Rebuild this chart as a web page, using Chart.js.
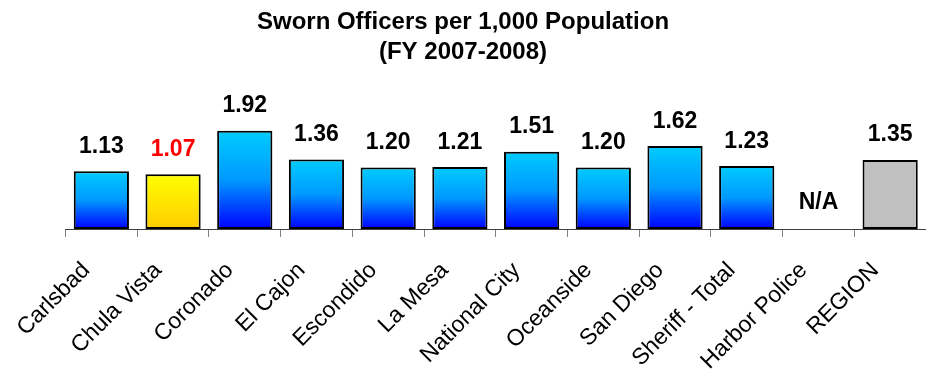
<!DOCTYPE html>
<html>
<head>
<meta charset="utf-8">
<script src="https://cdn.jsdelivr.net/npm/chart.js@4/dist/chart.umd.min.js"></script>
<style>
  html, body { margin: 0; padding: 0; background: #ffffff; }
  #wrap { width: 926px; height: 370px; position: relative; }
</style>
</head>
<body>
<div id="wrap"><canvas id="c"></canvas></div>
<script>
// Sworn officers per 1,000 residents, FY 2007-2008
const agencies = ['Carlsbad', 'Chula Vista', 'Coronado', 'El Cajon', 'Escondido', 'La Mesa',
  'National City', 'Oceanside', 'San Diego', 'Sheriff - Total', 'Harbor Police', 'REGION'];
const officersPer1000 = [1.13, 1.07, 1.92, 1.36, 1.20, 1.21, 1.51, 1.20, 1.62, 1.23, null, 1.35];
const valueLabels = ['1.13', '1.07', '1.92', '1.36', '1.20', '1.21', '1.51', '1.20', '1.62', '1.23', 'N/A', '1.35'];
const highlighted = 'Chula Vista';
const regionTotal = 'REGION';

const FONT = '"Liberation Sans", Arial, sans-serif';

function barFill(ctx) {
  const chart = ctx.chart;
  const i = ctx.dataIndex;
  const name = agencies[i];
  const v = officersPer1000[i];
  if (name === regionTotal) return '#C0C0C0';
  const ys = chart.scales && chart.scales.y;
  if (!ys || v == null || !chart.chartArea) return name === highlighted ? '#FFEE00' : '#0077FF';
  const top = ys.getPixelForValue(v);
  const bottom = ys.getPixelForValue(0);
  const g = chart.ctx.createLinearGradient(0, top, 0, bottom);
  if (name === highlighted) {
    g.addColorStop(0, '#FFFF00');
    g.addColorStop(1, '#FFCC00');
  } else {
    g.addColorStop(0, '#00CCFF');
    g.addColorStop(0.5, '#0099FF');
    g.addColorStop(1, '#0000FF');
  }
  return g;
}

// Writes each agency's value (or N/A) above its bar
const valueLabelPlugin = {
  id: 'valueLabels',
  afterDatasetsDraw(chart) {
    const ctx = chart.ctx;
    const meta = chart.getDatasetMeta(0);
    const base = chart.scales.y.getPixelForValue(0);
    ctx.save();
    ctx.font = 'bold 23px ' + FONT;
    ctx.textAlign = 'center';
    ctx.textBaseline = 'alphabetic';
    meta.data.forEach((bar, i) => {
      const v = officersPer1000[i];
      ctx.fillStyle = agencies[i] === highlighted ? '#FF0000' : '#000000';
      const y = v == null ? base - 20 : bar.y - 18.5;
      ctx.fillText(valueLabels[i], bar.x, y);
    });
    ctx.restore();
  }
};

new Chart(document.getElementById('c'), {
  type: 'bar',
  data: {
    labels: agencies,
    datasets: [{
      data: officersPer1000,
      backgroundColor: barFill,
      borderColor: '#000000',
      borderWidth: 2,
      borderSkipped: false,
      categoryPercentage: 1.0,
      barPercentage: 0.77
    }]
  },
  options: {
    responsive: true,
    maintainAspectRatio: false,
    animation: false,
    layout: { padding: 0 },
    plugins: {
      legend: { display: false },
      tooltip: { enabled: false },
      title: {
        display: true,
        text: ['Sworn Officers per 1,000 Population', '(FY 2007-2008)'],
        color: '#000000',
        font: { family: FONT, size: 24, weight: 'bold', lineHeight: 1.25 },
        padding: { top: 7.5, bottom: 20.75 }
      }
    },
    scales: {
      x: {
        offset: true,
        grid: {
          display: true,
          offset: true,
          drawOnChartArea: false,
          drawTicks: true,
          tickLength: 8,
          color: '#808080'
        },
        border: { display: true, color: '#404040', width: 1 },
        ticks: {
          color: '#000000',
          font: { family: FONT, size: 23 },
          minRotation: 45,
          maxRotation: 45,
          autoSkip: false,
          padding: 20,
          labelOffset: -15
        },
        afterFit(scale) {
          scale.height = 141;
          scale.paddingLeft = 65.5;
          scale.paddingRight = 0;
        }
      },
      y: {
        display: false,
        min: 0,
        max: 2.75
      }
    }
  },
  plugins: [valueLabelPlugin]
});
</script>
</body>
</html>
